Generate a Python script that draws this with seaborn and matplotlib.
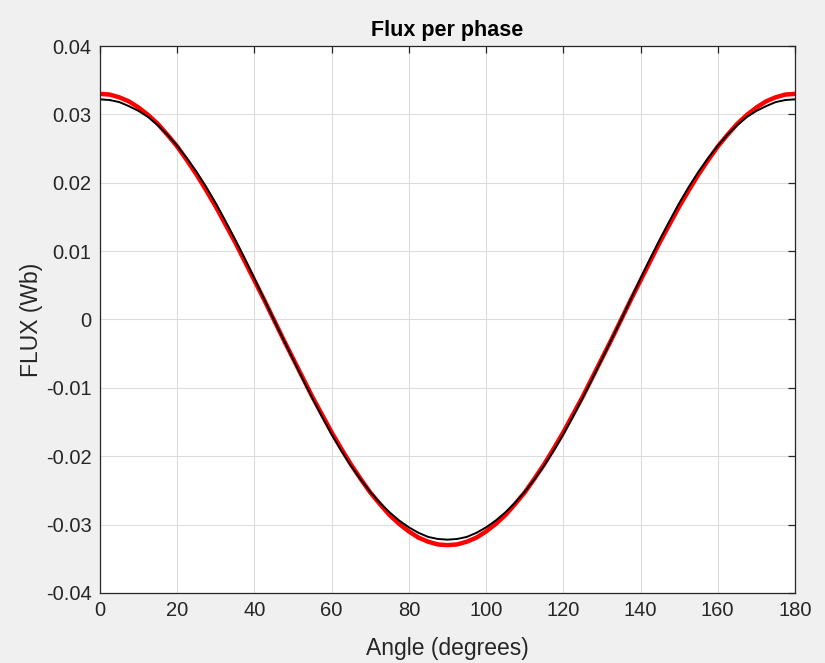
import numpy as np
import pandas as pd
import matplotlib
matplotlib.use("Agg")
import matplotlib.pyplot as plt
import seaborn as sns

# angle in degrees, 2.5 degree steps from 0 to 180
angle = [0, 2.5, 5, 7.5, 10, 12.5, 15, 17.5, 20, 22.5, 25, 27.5, 30, 32.5, 35, 37.5, 40, 42.5, 45,
         47.5, 50, 52.5, 55, 57.5, 60, 62.5, 65, 67.5, 70, 72.5, 75, 77.5, 80, 82.5, 85, 87.5, 90,
         92.5, 95, 97.5, 100, 102.5, 105, 107.5, 110, 112.5, 115, 117.5, 120, 122.5, 125, 127.5, 130,
         132.5, 135, 137.5, 140, 142.5, 145, 147.5, 150, 152.5, 155, 157.5, 160, 162.5, 165, 167.5,
         170, 172.5, 175, 177.5, 180]

# red curve (thick)
flux_red = [0.0330, 0.0329, 0.0325, 0.0319, 0.0310, 0.0299, 0.0286, 0.0270, 0.0253, 0.0233,
            0.0212, 0.0189, 0.0165, 0.0139, 0.0113, 0.0085, 0.0057, 0.0029, 0.0000,
            -0.0029, -0.0057, -0.0085, -0.0113, -0.0139, -0.0165, -0.0189, -0.0212, -0.0233,
            -0.0253, -0.0270, -0.0286, -0.0299, -0.0310, -0.0319, -0.0325, -0.0329, -0.0330,
            -0.0329, -0.0325, -0.0319, -0.0310, -0.0299, -0.0286, -0.0270, -0.0253, -0.0233,
            -0.0212, -0.0189, -0.0165, -0.0139, -0.0113, -0.0085, -0.0057, -0.0029, 0.0000,
            0.0029, 0.0057, 0.0085, 0.0113, 0.0139, 0.0165, 0.0189, 0.0212, 0.0233,
            0.0253, 0.0270, 0.0286, 0.0299, 0.0310, 0.0319, 0.0325, 0.0329, 0.0330]

# black curve (thin)
flux_black = [0.0322, 0.0321, 0.0318, 0.0312, 0.0305, 0.0296, 0.0284, 0.0270, 0.0254, 0.0236,
              0.0216, 0.0194, 0.0170, 0.0144, 0.0117, 0.0089, 0.0060, 0.0030, 0.0000,
              -0.0029, -0.0058, -0.0087, -0.0115, -0.0142, -0.0168, -0.0192, -0.0214, -0.0234,
              -0.0252, -0.0268, -0.0282, -0.0294, -0.0304, -0.0312, -0.0318, -0.0321, -0.0322,
              -0.0321, -0.0318, -0.0312, -0.0304, -0.0294, -0.0282, -0.0268, -0.0252, -0.0234,
              -0.0214, -0.0192, -0.0168, -0.0142, -0.0115, -0.0087, -0.0058, -0.0029, 0.0000,
              0.0030, 0.0060, 0.0089, 0.0117, 0.0144, 0.0170, 0.0194, 0.0216, 0.0236,
              0.0254, 0.0270, 0.0284, 0.0296, 0.0305, 0.0312, 0.0318, 0.0321, 0.0322]

x_ticks = [0, 20, 40, 60, 80, 100, 120, 140, 160, 180]
y_ticks = [-0.04, -0.03, -0.02, -0.01, 0, 0.01, 0.02, 0.03, 0.04]
y_tick_labels = ['-0.04', '-0.03', '-0.02', '-0.01', '0', '0.01', '0.02', '0.03', '0.04']

df = pd.DataFrame({'angle': angle, 'red': flux_red, 'black': flux_black})

sns.set_theme(style="white")
plt.rcParams['font.family'] = ['Liberation Sans', 'DejaVu Sans']

fig = plt.figure(figsize=(8.25, 6.63), dpi=100, facecolor='#f0f0f0')
ax = fig.add_axes([0.1212, 0.1056, 0.8424, 0.825])
ax.set_facecolor('white')

# red first, black drawn on top
sns.lineplot(data=df, x='angle', y='red', color='#ff0000', linewidth=3.2, ax=ax)
sns.lineplot(data=df, x='angle', y='black', color='black', linewidth=1.4, ax=ax)

ax.set_xlim(0, 180)
ax.set_ylim(-0.04, 0.04)
ax.set_xticks(x_ticks)
ax.set_xticklabels([str(t) for t in x_ticks])
ax.set_yticks(y_ticks)
ax.set_yticklabels(y_tick_labels)

ax.grid(True, color='#dcdcdc', linewidth=0.8)
ax.set_axisbelow(True)
for s in ax.spines.values():
    s.set_color('#262626')
    s.set_linewidth(0.9)
ax.tick_params(direction='in', length=5, width=0.9, colors='#262626',
               labelsize=14.5, top=True, right=True, pad=6)

ax.set_title('Flux per phase', fontsize=15.5, fontweight='bold', color='black', pad=7)
ax.set_xlabel('Angle (degrees)', fontsize=16.5, color='#262626', labelpad=12)
ax.set_ylabel('FLUX (Wb)', fontsize=16.5, color='#262626', labelpad=2)

fig.savefig('out.png', dpi=100, facecolor=fig.get_facecolor())
